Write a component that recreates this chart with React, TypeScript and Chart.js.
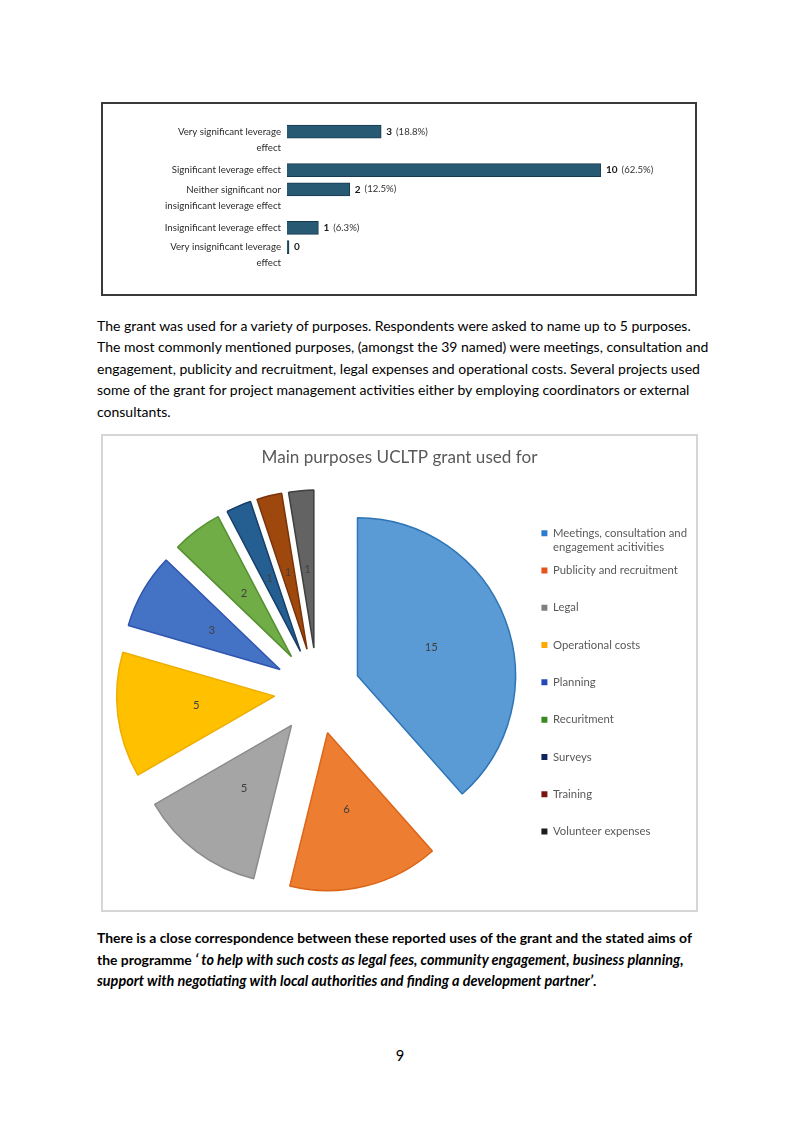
import React, { useEffect, useRef } from 'react';
import { Chart, registerables, CategoryScale } from 'chart.js';

Chart.register(...registerables);

// ---------- Data: leverage bar chart ----------
const leverageCategories: string[][] = [
  ['Very significant leverage', 'effect'],
  ['Significant leverage effect'],
  ['Neither significant nor', 'insignificant leverage effect'],
  ['Insignificant leverage effect'],
  ['Very insignificant leverage', 'effect'],
];
const leverageCounts = [3, 10, 2, 1, 0];

// ---------- Data: purposes pie chart ----------
const purposeLabels: string[][] = [
  ['Meetings, consultation and', 'engagement acitivities'],
  ['Publicity and recruitment'],
  ['Legal'],
  ['Operational costs'],
  ['Planning'],
  ['Recuritment'],
  ['Surveys'],
  ['Training'],
  ['Volunteer expenses'],
];
const purposeCounts = [15, 6, 5, 5, 3, 2, 1, 1, 1];
const sliceColors = ['#5B9BD5', '#ED7D31', '#A5A5A5', '#FFC000', '#4472C4', '#70AD47', '#255E91', '#9E480E', '#636363'];
const sliceBorders = ['#2E75B6', '#DC6518', '#8C8C8C', '#EDAE00', '#2F55B0', '#549030', '#173F6A', '#7A3208', '#3F3F3F'];
const legendColors = ['#2A7BCB', '#E5531F', '#808080', '#FFA800', '#2548B8', '#3A8A22', '#12245E', '#7A1410', '#1C1C1C'];
const pieTitle = 'Main purposes UCLTP grant used for';

// ---------- Page text ----------
const introLines = [
  'The grant was used for a variety of purposes. Respondents were asked to name up to 5 purposes.',
  'The most commonly mentioned purposes, (amongst the 39 named) were meetings, consultation and',
  'engagement, publicity and recruitment, legal expenses and operational costs. Several projects used',
  'some of the grant for project management activities either by employing coordinators or external',
  'consultants.',
];
const pageNumber = '9';

const TICK_LH = 16;
const FONT = 'Lato, "Open Sans", sans-serif';

// Category scale whose bands are proportional to the number of label lines,
// with each bar aligned to the first line of its label.
class LineWeightedCategoryScale extends CategoryScale {
  static id = 'lineweighted';
  static defaults = CategoryScale.defaults;
  _counts(): number[] {
    return (this.getLabels() as any[]).map((l) => (Array.isArray(l) ? l.length : 1));
  }
  _unit(): number {
    const c = this._counts();
    const total = c.reduce((a, b) => a + b, 0);
    return (this.bottom - this.top) / total;
  }
  getPixelForValue(value: any, index?: number): number {
    if (typeof value !== 'number') value = (this as any).parse(value, index);
    if (value === null || value === undefined || isNaN(value)) return NaN;
    const c = this._counts();
    let before = 0;
    for (let k = 0; k < Math.round(value); k++) before += c[k];
    return this.top + (before + 0.5) * this._unit();
  }
  getPixelForTick(index: number): number {
    const t = (this as any).ticks[index];
    const c = this._counts();
    return this.getPixelForValue(t.value) + ((c[t.value] - 1) * TICK_LH) / 2;
  }
}
Chart.register(LineWeightedCategoryScale as any);

const barValueLabels = {
  id: 'barValueLabels',
  afterDatasetsDraw(chart: any) {
    const { ctx } = chart;
    const data = chart.data.datasets[0].data as number[];
    const total = data.reduce((a, b) => a + b, 0);
    chart.getDatasetMeta(0).data.forEach((bar: any, i: number) => {
      const v = data[i];
      let x = bar.x + 5;
      const y = bar.y;
      ctx.save();
      ctx.textBaseline = 'middle';
      ctx.textAlign = 'left';
      ctx.font = `bold 10px ${FONT}`;
      ctx.fillStyle = '#1a1a1a';
      const s = String(v);
      ctx.fillText(s, x, y);
      x += ctx.measureText(s).width + 4;
      if (v > 0) {
        ctx.font = `9.6px ${FONT}`;
        ctx.fillStyle = '#333';
        ctx.fillText(`(${((v / total) * 100).toFixed(1)}%)`, x, y);
      }
      ctx.restore();
    });
  },
};

const explodePlugin = {
  id: 'explode',
  afterDatasetUpdate(chart: any, args: any, opts: any) {
    const frac = (opts && opts.fraction) || 0;
    const meta = chart.getDatasetMeta(args.index);
    for (const arc of meta.data as any[]) {
      const mid = (arc.startAngle + arc.endAngle) / 2;
      const d = arc.outerRadius * frac;
      arc.x += Math.cos(mid) * d;
      arc.y += Math.sin(mid) * d;
    }
  },
};

const sliceLabels = {
  id: 'sliceLabels',
  afterDatasetsDraw(chart: any) {
    const { ctx } = chart;
    const data = chart.data.datasets[0].data as number[];
    chart.getDatasetMeta(0).data.forEach((arc: any, i: number) => {
      const p = arc.tooltipPosition(false);
      ctx.save();
      ctx.textAlign = 'center';
      ctx.textBaseline = 'middle';
      ctx.font = `11.3px ${FONT}`;
      ctx.fillStyle = '#404040';
      ctx.fillText(String(data[i]), p.x, p.y);
      ctx.restore();
    });
  },
};

export default function App() {
  const barRef = useRef<HTMLCanvasElement>(null);
  const pieRef = useRef<HTMLCanvasElement>(null);

  useEffect(() => {
    const bar = new Chart(barRef.current as HTMLCanvasElement, {
      type: 'bar',
      data: {
        labels: leverageCategories as any,
        datasets: [
          {
            data: leverageCounts,
            backgroundColor: '#285A74',
            borderColor: '#163A4F',
            borderWidth: 1,
            barThickness: 13,
            minBarLength: 2,
          },
        ],
      },
      options: {
        indexAxis: 'y',
        responsive: false,
        animation: false,
        devicePixelRatio: 1,
        events: [],
        layout: { padding: { top: 0, bottom: 0, right: 94, left: 0 } },
        scales: {
          x: { display: false, min: 0, max: Math.max(...leverageCounts) },
          y: {
            type: 'lineweighted' as any,
            grid: { display: false, drawTicks: false },
            border: { display: false },
            afterFit: (s: any) => {
              s.width = 184;
            },
            ticks: {
              autoSkip: false,
              padding: 6,
              color: '#2b2b2b',
              font: { family: FONT, size: 9.7, lineHeight: `${TICK_LH}px` },
            },
          },
        },
        plugins: { legend: { display: false }, tooltip: { enabled: false } },
      } as any,
      plugins: [barValueLabels],
    });

    const pie = new Chart(pieRef.current as HTMLCanvasElement, {
      type: 'pie',
      data: {
        labels: purposeLabels as any,
        datasets: [
          {
            data: purposeCounts,
            backgroundColor: sliceColors,
            borderColor: sliceBorders,
            borderWidth: 1.5,
          },
        ],
      },
      options: {
        responsive: false,
        animation: false,
        devicePixelRatio: 1,
        events: [],
        radius: 158,
        layout: { padding: { left: 0, right: 0, top: 0, bottom: 6.4 } },
        plugins: {
          title: {
            display: true,
            text: pieTitle,
            color: '#595959',
            font: { family: FONT, size: 17.1, weight: 'normal', lineHeight: 1.2 },
            padding: { top: 12.2, bottom: 10.6 },
          },
          legend: {
            position: 'right',
            align: 'center',
            fullSize: false,
            labels: {
              boxWidth: 6,
              boxHeight: 6,
              padding: 8.8,
              color: '#595959',
              font: { family: FONT, size: 11.3, lineHeight: 14.25 / 11.3 },
              generateLabels: (chart: any) => {
                const base = (Chart as any).overrides.pie.plugins.legend.labels.generateLabels(chart);
                return base.map((it: any, i: number) => {
                  const lines = [...purposeLabels[i]];
                  while (lines.length < 2) lines.push('');
                  return { ...it, text: lines, fillStyle: legendColors[i], strokeStyle: legendColors[i], lineWidth: 0 };
                });
              },
            },
          },
          tooltip: { enabled: false },
          explode: { fraction: 0.272 },
        },
      } as any,
      plugins: [explodePlugin, sliceLabels],
    });

    return () => {
      bar.destroy();
      pie.destroy();
    };
  }, []);

  const textStyle: React.CSSProperties = {
    position: 'absolute',
    whiteSpace: 'nowrap',
    fontSize: 14,
    color: '#000',
  };

  return (
    <div
      style={{
        position: 'absolute',
        left: 0,
        top: 0,
        width: 800,
        height: 1131,
        background: '#fff',
        fontFamily: FONT,
        overflow: 'hidden',
      }}
    >
      {/* leverage chart box */}
      <div
        style={{
          position: 'absolute',
          left: 101,
          top: 102,
          width: 596,
          height: 194,
          boxSizing: 'border-box',
          border: '2px solid #3a3a3a',
        }}
      />
      <canvas
        ref={barRef}
        width={592}
        height={198}
        style={{ position: 'absolute', left: 103, top: 100, width: 592, height: 198 }}
      />

      {/* intro paragraph */}
      <div style={{ ...textStyle, left: 97, top: 315, lineHeight: '21.4px' }}>
        {introLines.map((l, i) => (
          <div key={i}>{l}</div>
        ))}
      </div>

      {/* pie chart box */}
      <div
        style={{
          position: 'absolute',
          left: 101,
          top: 434,
          width: 597,
          height: 478,
          boxSizing: 'border-box',
          border: '2px solid #d6d6d6',
        }}
      />
      <canvas
        ref={pieRef}
        width={595}
        height={475}
        style={{ position: 'absolute', left: 102, top: 435, width: 595, height: 475 }}
      />

      {/* closing paragraph */}
      <div style={{ ...textStyle, left: 97, top: 927, lineHeight: '21.5px', fontWeight: 'bold', fontSize: 13.9 }}>
        <div>There is a close correspondence between these reported uses of the grant and the stated aims of</div>
        <div>
          the programme{' '}
          <i style={{ fontSize: 14.4 }}>‘ to help with such costs as legal fees, community engagement, business planning,</i>
        </div>
        <div>
          <i style={{ fontSize: 14.4 }}>support with negotiating with local authorities and finding a development partner’</i>.
        </div>
      </div>

      <div style={{ ...textStyle, fontSize: 14.7, left: 0, width: 800, textAlign: 'center', top: 1045, lineHeight: '21px' }}>
        {pageNumber}
      </div>
    </div>
  );
}
